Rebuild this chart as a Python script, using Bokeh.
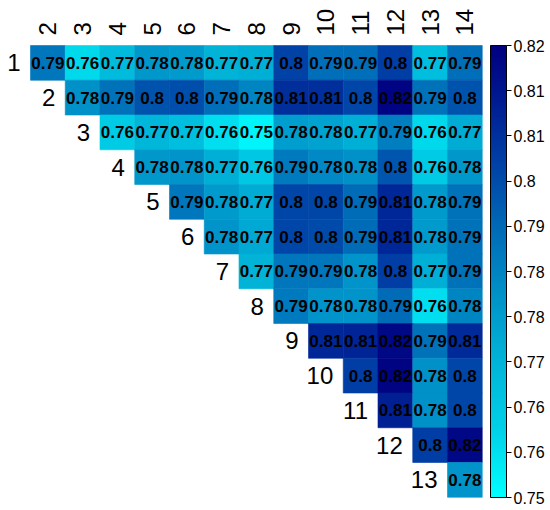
import numpy as np
from bokeh.plotting import figure
from bokeh.models import (ColumnDataSource, LinearColorMapper, ColorBar, FixedTicker,
                          CustomJSTickFormatter, Range1d)
from bokeh.core.properties import value
from bokeh.embed import file_html
from bokeh.resources import INLINE

# ---------------- data ----------------
row_labels = ["1", "2", "3", "4", "5", "6", "7", "8", "9", "10", "11", "12", "13"]
col_labels = ["2", "3", "4", "5", "6", "7", "8", "9", "10", "11", "12", "13", "14"]

row1 = [0.788, 0.758, 0.768, 0.779, 0.778, 0.771, 0.772, 0.801, 0.790, 0.790, 0.802, 0.767, 0.790]
row2 = [0.781, 0.789, 0.797, 0.798, 0.790, 0.784, 0.806, 0.806, 0.800, 0.818, 0.789, 0.797]
row3 = [0.762, 0.770, 0.767, 0.757, 0.752, 0.777, 0.776, 0.772, 0.786, 0.758, 0.773]
row4 = [0.779, 0.780, 0.772, 0.763, 0.787, 0.783, 0.781, 0.796, 0.762, 0.779]
row5 = [0.788, 0.778, 0.773, 0.800, 0.800, 0.791, 0.808, 0.778, 0.789]
row6 = [0.780, 0.774, 0.800, 0.799, 0.791, 0.808, 0.778, 0.789]
row7 = [0.771, 0.788, 0.788, 0.780, 0.802, 0.772, 0.789]
row8 = [0.787, 0.780, 0.780, 0.791, 0.757, 0.784]
row9 = [0.808, 0.809, 0.817, 0.789, 0.807]
row10 = [0.802, 0.818, 0.781, 0.800]
row11 = [0.810, 0.781, 0.800]
row12 = [0.802, 0.817]
row13 = [0.780]
rows = [row1, row2, row3, row4, row5, row6, row7, row8, row9, row10, row11, row12, row13]

cbar_low, cbar_high = 0.7495, 0.8195
cbar_ticks = [0.7495, 0.7565, 0.7635, 0.7705, 0.7775, 0.7845, 0.7915, 0.7985, 0.8055, 0.8125, 0.8195]

# ---------------- palette (cyan -> navy) ----------------
anchors = [(0.00, (0, 255, 255)), (0.15, (0, 208, 232)), (0.30, (0, 180, 216)),
           (0.45, (0, 145, 200)), (0.60, (0, 105, 182)), (0.75, (0, 62, 165)),
           (0.90, (0, 22, 142)), (1.00, (0, 0, 128))]
palette = []
for t in np.linspace(0, 1, 256):
    for (t0, c0), (t1, c1) in zip(anchors[:-1], anchors[1:]):
        if t0 <= t <= t1:
            f = (t - t0) / (t1 - t0)
            c = [int(round(a + (b - a) * f)) for a, b in zip(c0, c1)]
            palette.append("#%02x%02x%02x" % tuple(c))
            break

mapper = LinearColorMapper(palette=palette, low=cbar_low, high=cbar_high)

xs, ys, vs, ts = [], [], [], []
for i, row in enumerate(rows):
    r = i + 1
    for k, v in enumerate(row):
        xs.append(r + 1 + k)
        ys.append(r)
        vs.append(v)
        ts.append(f"{round(v, 2):g}")
src = ColumnDataSource(dict(x=xs, y=ys, v=vs, t=ts))

p = figure(width=550, height=510, x_range=Range1d(0.637, 16.464), y_range=Range1d(13.881, -0.795),
           output_backend="svg", toolbar_location=None, min_border=0,
           min_border_left=0, min_border_right=0, min_border_top=0, min_border_bottom=0,
           x_axis_location=None, y_axis_location=None, outline_line_color=None)
p.grid.visible = False

p.rect(x="x", y="y", width=1, height=1, source=src,
       fill_color={"field": "v", "transform": mapper},
       line_color={"field": "v", "transform": mapper}, line_width=0.6)

p.text(x="x", y="y", text="t", source=src, text_align="center", text_baseline="middle",
       text_font=value("Liberation Sans"), text_font_style="bold", text_font_size="17px",
       text_color="black")

# row labels
row_src = ColumnDataSource(dict(x=[i + 1.5 for i in range(len(row_labels))],
                                y=[i + 1 for i in range(len(row_labels))], t=row_labels))
p.text(x="x", y="y", text="t", source=row_src, x_offset=-10, text_align="right",
       text_baseline="middle", text_font=value("Liberation Sans"), text_font_size="24px",
       text_color="black")

# column labels
col_src = ColumnDataSource(dict(x=[j + 2 for j in range(len(col_labels))],
                                y=[0.5] * len(col_labels), t=col_labels))
p.text(x="x", y="y", text="t", source=col_src, y_offset=-10, angle=np.pi / 2,
       text_align="left", text_baseline="middle", text_font=value("Liberation Sans"),
       text_font_size="24px", text_color="black")

cb = ColorBar(color_mapper=mapper, width=16, height=452, location=(490, 13),
              padding=0, margin=0, ticker=FixedTicker(ticks=cbar_ticks),
              formatter=CustomJSTickFormatter(code="return (Math.round(tick*100)/100).toString();"),
              major_label_text_font="Liberation Sans", major_label_text_font_size="16px",
              major_label_text_color="black", major_tick_in=0, major_tick_out=5,
              major_tick_line_color="black", minor_tick_line_color=None,
              bar_line_color="black", bar_line_width=1,
              background_fill_color=None, border_line_color=None, label_standoff=2)
p.add_layout(cb)

open("out.html", "w").write(file_html(p, INLINE))
